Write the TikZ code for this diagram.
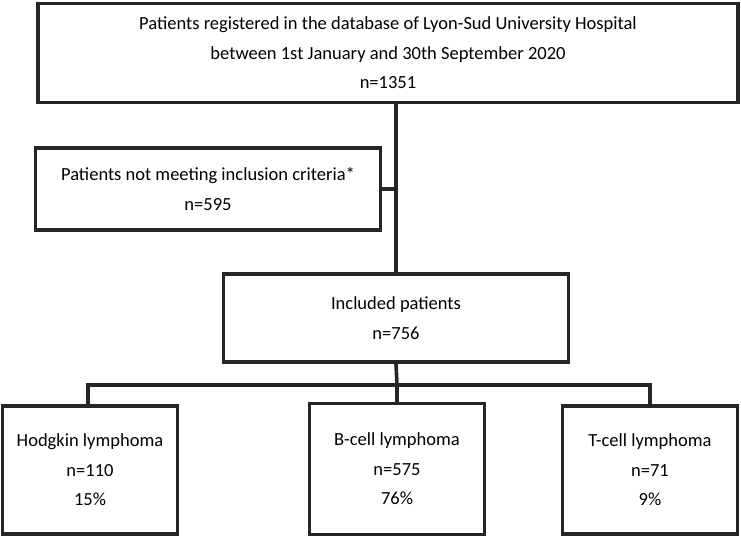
\documentclass[tikz,border=0pt]{standalone}
\usepackage{fontspec}
\setmainfont{Carlito}
\begin{document}
\begin{tikzpicture}[x=1pt,y=-1pt,
  box/.style={draw=black!85, line width=3.6pt, rectangle, align=center, inner sep=0pt, font=\fontsize{18.5}{29.5}\selectfont, fill=white},
  link/.style={draw=black!85, line width=3.6pt}]
\useasboundingbox (0,0) rectangle (741,537);
\node[box, minimum width=700pt, minimum height=99pt] (top) at (388,53)
  {Patients registered in the database of Lyon-Sud University Hospital\\between 1st January and 30th September 2020\\n=1351};
\node[box, minimum width=345pt, minimum height=82pt] (excl) at (208,189)
  {Patients not meeting inclusion criteria*\\n=595};
\node[box, minimum width=345pt, minimum height=88pt] (incl) at (396,318)
  {Included patients\\n=756};
\node[box, minimum width=175pt, minimum height=128pt] (hod) at (90,470)
  {Hodgkin lymphoma\\n=110\\15\%};
\node[box, minimum width=175pt, minimum height=131pt] (bcell) at (397,469)
  {B-cell lymphoma\\n=575\\76\%};
\node[box, minimum width=175pt, minimum height=128pt] (tcell) at (650,470)
  {T-cell lymphoma\\n=71\\9\%};
\coordinate (j) at (397,385);
\draw[link] (top.south -| incl.north) -- (incl.north);
\draw[link] (excl.east) -- (excl.east -| incl.north);
\draw[link] (incl.south) -- (j);
\draw[link] (hod.north -| 88,0) |- (j) -| (tcell.north);
\draw[link] (j) -- (bcell.north);
\end{tikzpicture}
\end{document}
